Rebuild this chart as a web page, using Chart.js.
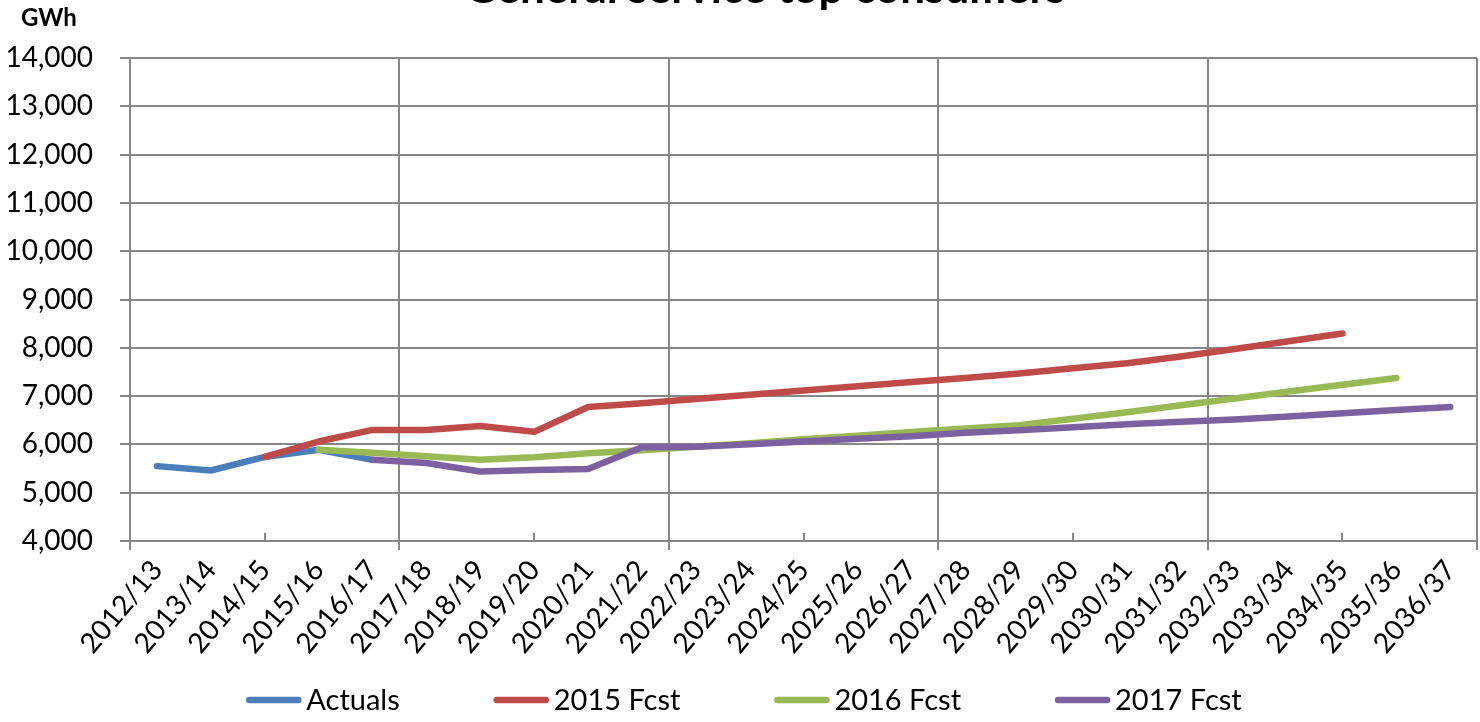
<!DOCTYPE html>
<html>
<head>
<meta charset="utf-8">
<script src="https://cdn.jsdelivr.net/npm/chart.js@4.4.1/dist/chart.umd.min.js"></script>
<style>
    body { margin: 0; background: #fff; }
    #wrap { width: 1480px; height: 722px; position: relative; }
</style>
</head>
<body>
<div id="wrap"><canvas id="chart"></canvas></div>
<script>
const chartTitle = 'General service top consumers';
const unitLabel = 'GWh';

const categories = [
    '2012/13', '2013/14', '2014/15', '2015/16', '2016/17', '2017/18', '2018/19',
    '2019/20', '2020/21', '2021/22', '2022/23', '2023/24', '2024/25', '2025/26',
    '2026/27', '2027/28', '2028/29', '2029/30', '2030/31', '2031/32', '2032/33',
    '2033/34', '2034/35', '2035/36', '2036/37'
];

const actuals = [5550, 5460, 5740, 5890, 5680, null, null, null, null, null, null, null, null,
    null, null, null, null, null, null, null, null, null, null, null, null];

const fcst2015 = [null, null, 5740, 6060, 6300, 6300, 6380, 6260, 6775, 6850, 6940, 7030, 7115,
    7205, 7290, 7375, 7470, 7575, 7680, 7820, 7975, 8135, 8295, null, null];

const fcst2016 = [null, null, null, 5890, 5825, 5755, 5680, 5735, 5815, 5880, 5950, 6025, 6105,
    6180, 6255, 6330, 6395, 6530, 6665, 6810, 6950, 7095, 7235, 7375, null];

const fcst2017 = [null, null, null, null, 5680, 5615, 5440, 5470, 5490, 5940, 5950, 6005, 6060,
    6115, 6170, 6240, 6295, 6355, 6415, 6470, 6515, 6580, 6645, 6710, 6775];

const minorTickIdx = [2, 7, 12, 17, 22];

const gridGrey = '#878787';
const fontFam = 'Lato, "Open Sans", sans-serif';

function series(label, data, color, order) {
    return {
        label: label,
        data: data,
        borderColor: color,
        backgroundColor: color,
        borderWidth: 6.5,
        borderCapStyle: 'round',
        borderJoinStyle: 'round',
        pointRadius: 0,
        tension: 0,
        fill: false,
        order: order
    };
}

// titel, einheit, kleine ticks und legende selbst zeichnen
const extras = {
    id: 'extras',
    afterDraw(chart) {
        const ctx = chart.ctx;
        const xs = chart.scales.x;
        const area = chart.chartArea;

        ctx.save();
        ctx.strokeStyle = gridGrey;
        ctx.lineWidth = 2;
        minorTickIdx.forEach(i => {
            const x = Math.round(xs.getPixelForValue(i));
            ctx.beginPath();
            ctx.moveTo(x, area.bottom);
            ctx.lineTo(x, area.bottom - 8);
            ctx.stroke();
        });

        ctx.fillStyle = '#000';
        ctx.textBaseline = 'alphabetic';
        ctx.textAlign = 'center';
        ctx.font = 'bold 44px ' + fontFam;
        ctx.fillText(chartTitle, 765, 3);

        ctx.textAlign = 'left';
        ctx.font = 'bold 24px ' + fontFam;
        ctx.fillText(unitLabel, 21, 26);

        // legende
        ctx.font = '29px ' + fontFam;
        const lineLen = 55, gap = 5, itemGap = 94;
        const ds = chart.data.datasets;
        const widths = ds.map(d => lineLen + gap + ctx.measureText(d.label).width);
        const total = widths.reduce((a, b) => a + b, 0) + itemGap * (ds.length - 1);
        let x = (chart.width - total) / 2 + 4;
        const y = 700;
        ctx.textBaseline = 'middle';
        ds.forEach((d, i) => {
            ctx.strokeStyle = d.borderColor;
            ctx.lineWidth = 6.5;
            ctx.lineCap = 'round';
            ctx.beginPath();
            ctx.moveTo(x + 3, y);
            ctx.lineTo(x + lineLen - 3, y);
            ctx.stroke();
            ctx.fillStyle = '#000';
            ctx.fillText(d.label, x + lineLen + gap, y + 1);
            x += widths[i] + itemGap;
        });
        ctx.restore();
    }
};

new Chart(document.getElementById('chart').getContext('2d'), {
    type: 'line',
    data: {
        labels: categories,
        datasets: [
            series('Actuals', actuals, '#4A7EBB', 3),
            series('2015 Fcst', fcst2015, '#BE4B48', 2),
            series('2016 Fcst', fcst2016, '#98B954', 1),
            series('2017 Fcst', fcst2017, '#7D60A0', 0)
        ]
    },
    options: {
        responsive: true,
        maintainAspectRatio: false,
        animation: false,
        layout: { padding: { top: 58, right: 2, left: 0, bottom: 0 } },
        plugins: {
            legend: { display: false },
            title: { display: false },
            tooltip: { enabled: false }
        },
        scales: {
            x: {
                offset: true,
                grid: {
                    offset: true,
                    lineWidth: 2,
                    tickLength: 9,
                    color: c => (c.type !== 'tick' || c.index % 5 === 0) ? gridGrey : 'rgba(0,0,0,0)'
                },
                border: { color: gridGrey, width: 2 },
                ticks: {
                    autoSkip: false,
                    maxRotation: 50,
                    minRotation: 50,
                    padding: 4,
                    color: '#000',
                    font: { family: fontFam, size: 28 }
                },
                afterFit: s => { s.height = 181; }
            },
            y: {
                min: 4000,
                max: 14000,
                grid: { color: gridGrey, lineWidth: 2, tickLength: 10 },
                border: { color: gridGrey, width: 2 },
                ticks: {
                    stepSize: 1000,
                    padding: 27,
                    color: '#000',
                    font: { family: fontFam, size: 28 },
                    callback: v => v.toLocaleString('en-US')
                },
                afterFit: s => { s.width = 130; }
            }
        }
    },
    plugins: [extras]
});
</script>
</body>
</html>
